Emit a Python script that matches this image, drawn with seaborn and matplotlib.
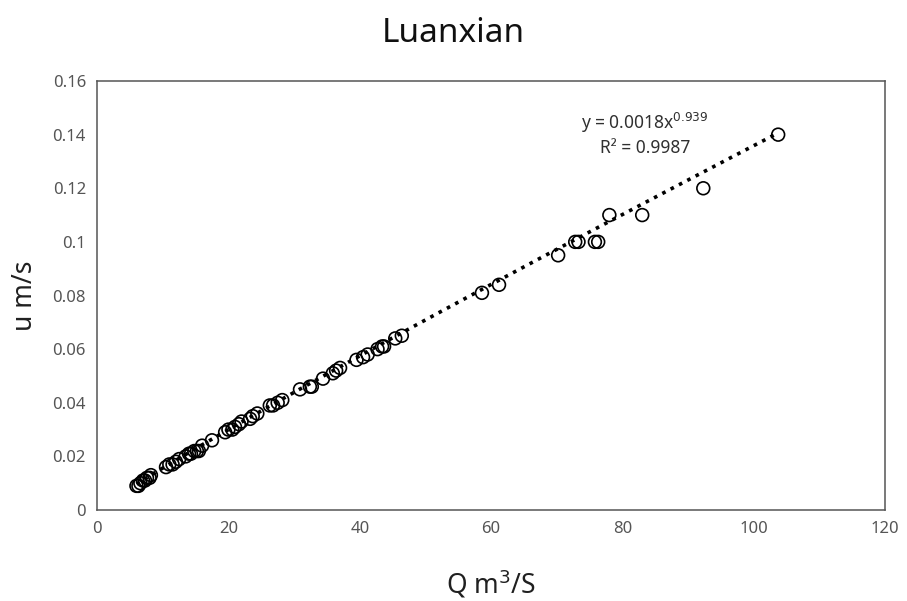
import numpy as np
import pandas as pd
import matplotlib
matplotlib.use("Agg")
import matplotlib.pyplot as plt
import seaborn as sns

# Discharge Q (m^3/s) and flow velocity u (m/s)
discharge = [
    6.0, 6.3, 6.6, 7.0, 7.3, 7.6, 8.0, 8.2,
    10.5, 11.0, 11.5, 12.0, 12.5, 13.5, 14.0, 14.3, 14.8, 15.2, 15.5, 16.0,
    17.5, 19.5, 20.0, 20.6, 21.0, 21.6, 22.0, 23.3, 23.7, 24.4,
    26.3, 26.8, 27.5, 28.2, 30.9, 32.4, 32.7, 34.4, 35.9, 36.4, 37.0,
    39.5, 40.5, 41.2, 42.7, 43.4, 43.7, 45.4, 46.4,
    58.6, 61.2, 70.2, 72.8, 73.3, 75.8, 76.3, 78.0, 83.0, 92.3, 103.7,
]
velocity = [
    0.009, 0.009, 0.010, 0.011, 0.011, 0.012, 0.012, 0.013,
    0.016, 0.017, 0.017, 0.018, 0.019, 0.020, 0.021, 0.021, 0.022, 0.022, 0.022, 0.024,
    0.026, 0.029, 0.030, 0.030, 0.031, 0.032, 0.033, 0.034, 0.035, 0.036,
    0.039, 0.039, 0.040, 0.041, 0.045, 0.046, 0.046, 0.049, 0.051, 0.052, 0.053,
    0.056, 0.057, 0.058, 0.060, 0.061, 0.061, 0.064, 0.065,
    0.081, 0.084, 0.095, 0.100, 0.100, 0.100, 0.100, 0.110, 0.110, 0.120, 0.140,
]

# Power-law trendline coefficients: u = a * Q^b
coef_a = 0.0018
coef_b = 0.939
r_squared = 0.9987

x_ticks = [0, 20, 40, 60, 80, 100, 120]
y_ticks = [0, 0.02, 0.04, 0.06, 0.08, 0.1, 0.12, 0.14, 0.16]
y_tick_labels = ["0", "0.02", "0.04", "0.06", "0.08", "0.1", "0.12", "0.14", "0.16"]

df = pd.DataFrame({"Q": discharge, "u": velocity})
q_fit = np.linspace(min(discharge), max(discharge), 200)
fit = pd.DataFrame({"Q": q_fit, "u": coef_a * q_fit ** coef_b})

sns.set_style("white")
plt.rcParams["font.family"] = ["Noto Sans", "DejaVu Sans"]

fig = plt.figure(figsize=(9.07, 6.01), dpi=100)
ax = fig.add_axes([0.107, 0.1514, 0.869, 0.7138])

sns.lineplot(data=fit, x="Q", y="u", ax=ax, color="black",
             linestyle=(0, (1, 1.6)), linewidth=2.6)
sns.scatterplot(data=df, x="Q", y="u", ax=ax, facecolor="none",
                edgecolor="black", linewidth=1.2, s=85, marker="o")

ax.set_xlim(0, 120)
ax.set_ylim(0, 0.16)
ax.set_xticks(x_ticks)
ax.set_xticklabels([str(t) for t in x_ticks])
ax.set_yticks(y_ticks)
ax.set_yticklabels(y_tick_labels)
ax.tick_params(axis="both", length=0, labelsize=12, colors="#555555", pad=8)

for sp in ax.spines.values():
    sp.set_color("#555555")
    sp.set_linewidth(1.1)

ax.set_xlabel("Q m$^3$/S", fontsize=19, color="#202020", labelpad=22)
ax.set_ylabel("u m/s", fontsize=19, color="#202020", labelpad=10)

fig.text(0.5, 0.945, "Luanxian", ha="center", va="center",
         fontsize=24, color="#101010", fontweight="light")

ax.text(0.695, 0.902, f"y = {coef_a}x$^{{{coef_b}}}$", transform=ax.transAxes,
        ha="center", va="center", fontsize=12.5, color="#303030")
ax.text(0.695, 0.844, f"R² = {r_squared}", transform=ax.transAxes,
        ha="center", va="center", fontsize=12.5, color="#303030")

fig.savefig("out.png", dpi=100, facecolor="white")
